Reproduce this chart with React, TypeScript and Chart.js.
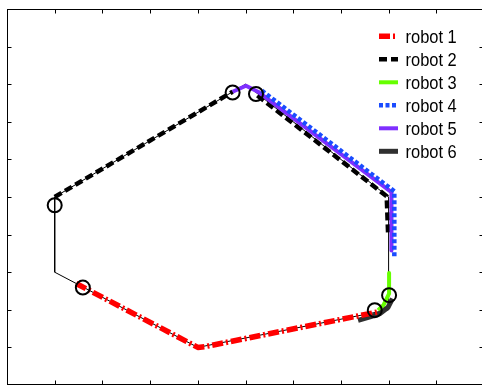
import React, { useEffect, useRef } from 'react';
import { Chart, registerables } from 'chart.js';

Chart.register(...registerables);

// Reference path (thin hexagon)
const hexagonPath: number[][] = [[1, 5], [1, 3], [4, 1], [8, 2], [8, 5], [5, 8], [1, 5]];
// Robot trajectories
const robot1: number[][] = [[1.45, 2.7], [4, 1], [4.15, 1.02], [7.8, 1.95]];
const robot2: number[][] = [[1, 5], [4.73, 7.8]];
const robot2b: number[][] = [[5.25, 7.7], [7.96, 5.02], [7.99, 4.0]];
const robot3: number[][] = [[8.01, 2.98], [8.01, 2.43], [7.89, 2.12], [7.78, 1.99]];
const robot4: number[][] = [[5.34, 7.83], [8.12, 5.15], [8.12, 3.36]];
const robot5: number[][] = [[4.73, 7.8], [5.01, 7.96], [5.26, 7.8], [8.06, 5.13], [8.06, 3.58]];
const robot6: number[][] = [[7.36, 1.72], [7.61, 1.81], [7.82, 1.9], [7.99, 2.07], [8.08, 2.3]];
// Current robot positions (circles)
const robotPositions: number[][] = [[1.0, 4.78], [1.59, 2.59], [4.73, 7.78], [5.22, 7.74], [8.01, 2.39], [7.71, 1.99]];

const robotLabels = ['robot 1', 'robot 2', 'robot 3', 'robot 4', 'robot 5', 'robot 6'];
const robotColors = ['#ff0000', '#000000', '#66ff00', '#1a4cff', '#7f2fff', '#303030'];
const axisTickValues = [1, 2, 3, 4, 5, 6, 7, 8, 9];
const axisMin = 0;
const axisMax = 10;

const toPts = (arr: number[][]) => arr.map((p) => ({ x: p[0], y: p[1] }));

const framePlugin = {
  id: 'frame',
  afterDraw(chart: any) {
    const { ctx, chartArea } = chart;
    const xs = chart.scales.x;
    const ys = chart.scales.y;
    ctx.save();
    ctx.strokeStyle = '#000';
    ctx.lineWidth = 1;
    ctx.setLineDash([]);
    const L = Math.round(chartArea.left) + 0.5;
    const T = Math.round(chartArea.top) + 0.5;
    const R = Math.round(chartArea.right) - 0.5;
    const B = Math.round(chartArea.bottom) - 0.5;
    ctx.strokeRect(L, T, R - L, B - T);
    const len = 4;
    ctx.beginPath();
    axisTickValues.forEach((v) => {
      const x = Math.round(xs.getPixelForValue(v)) + 0.5;
      ctx.moveTo(x, B);
      ctx.lineTo(x, B - len);
      ctx.moveTo(x, T);
      ctx.lineTo(x, T + len);
      const y = Math.round(ys.getPixelForValue(v)) + 0.5;
      ctx.moveTo(L, y);
      ctx.lineTo(L + len, y);
      ctx.moveTo(R, y);
      ctx.lineTo(R - len, y);
    });
    ctx.stroke();
    ctx.restore();
  },
};

const legendPlugin = {
  id: 'customLegend',
  afterDraw(chart: any) {
    const { ctx, chartArea } = chart;
    const x0 = chartArea.right - 105;
    const y0 = chartArea.top + 27.3;
    let i = 0;
    chart.data.datasets.forEach((ds: any) => {
      if (!ds.inLegend) return;
      const y = y0 + i * 23;
      ctx.save();
      ctx.strokeStyle = ds.borderColor;
      ctx.lineWidth = ds.borderWidth;
      ctx.lineCap = 'butt';
      ctx.setLineDash(ds.borderDash || []);
      ctx.beginPath();
      ctx.moveTo(x0, y);
      ctx.lineTo(x0 + 19, y);
      ctx.stroke();
      ctx.setLineDash([]);
      ctx.fillStyle = '#000';
      ctx.font = '18.5px "Liberation Sans", Arial, sans-serif';
      ctx.textBaseline = 'alphabetic';
      ctx.translate(x0 + 26.5, y + 7);
      ctx.scale(0.89, 1);
      ctx.fillText(ds.label, 0, 0);
      ctx.restore();
      i++;
    });
  },
};

export default function App() {
  const canvasRef = useRef<HTMLCanvasElement | null>(null);

  useEffect(() => {
    document.body.style.overflow = 'hidden';
    const canvas = canvasRef.current;
    if (!canvas) return;
    const robots = [robot1, robot2, robot3, robot4, robot5, robot6];
    const styles = [
      { borderWidth: 5.5, borderDash: [11, 3, 2, 3], order: 2 },
      { borderWidth: 4.5, borderDash: [8, 4], order: 5 },
      { borderWidth: 4, borderDash: [], order: 3 },
      { borderWidth: 4.5, borderDash: [4, 2.5], order: 1 },
      { borderWidth: 4, borderDash: [], order: 4 },
      { borderWidth: 5, borderDash: [], order: 2 },
    ];
    const mk = (label: string, data: number[][], i: number, inLegend: boolean) => ({
      label,
      inLegend,
      data: toPts(data),
      showLine: true,
      borderColor: robotColors[i],
      backgroundColor: robotColors[i],
      borderWidth: styles[i].borderWidth,
      borderDash: styles[i].borderDash,
      borderCapStyle: 'butt',
      borderJoinStyle: 'round',
      pointRadius: 0,
      order: styles[i].order,
    });
    const datasets: any[] = robots.map((r, i) => mk(robotLabels[i], r, i, true));
    datasets.push(mk('robot 2 (second segment)', robot2b, 1, false));
    datasets.push({
      label: 'path',
      inLegend: false,
      data: toPts(hexagonPath),
      showLine: true,
      borderColor: '#000',
      borderWidth: 1,
      pointRadius: 0,
      order: 10,
    });
    datasets.push({
      label: 'positions',
      inLegend: false,
      data: toPts(robotPositions),
      showLine: false,
      pointStyle: 'circle',
      pointRadius: 7,
      pointBorderWidth: 2,
      pointBorderColor: '#000',
      pointBackgroundColor: 'rgba(0,0,0,0)',
      order: 0,
    });

    const chart = new Chart(canvas, {
      type: 'scatter',
      data: { datasets },
      options: {
        animation: false,
        responsive: false,
        maintainAspectRatio: false,
        devicePixelRatio: 1,
        layout: { autoPadding: false, padding: { left: 7, top: 9, right: 8, bottom: 0 } },
        scales: {
          x: { type: 'linear', min: axisMin, max: axisMax, display: false },
          y: { type: 'linear', min: axisMin, max: axisMax, display: false },
        },
        plugins: {
          legend: { display: false },
          tooltip: { enabled: false },
        },
      } as any,
      plugins: [framePlugin, legendPlugin],
    });
    return () => chart.destroy();
  }, []);

  return (
    <div style={{ position: 'fixed', left: 0, top: 0, width: 482, height: 385, overflow: 'hidden', background: '#fff' }}>
      <canvas ref={canvasRef} width={492} height={385} style={{ display: 'block', width: 492, height: 385 }} />
    </div>
  );
}
